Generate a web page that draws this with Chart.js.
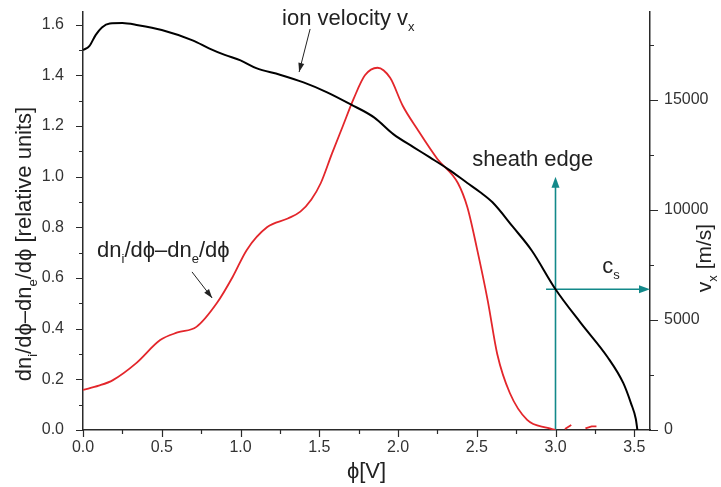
<!doctype html>
<html lang="en">
<head>
<meta charset="utf-8">
<title>ion velocity and dn/dphi near the sheath edge</title>
<style>
  * { margin: 0; padding: 0; }
  body { background: #fff; }
  .chartBox { width: 721px; height: 487px; }
</style>
</head>
<body>
<div class="chartBox"><canvas id="myChart"></canvas></div>
<script src="https://cdn.jsdelivr.net/npm/chart.js/dist/chart.umd.min.js"></script>
<script>
// ion velocity v_x, right axis [m/s]
const velPhi    = [0, 0.04, 0.08, 0.12, 0.17, 0.25, 0.35, 0.5, 0.7, 0.8, 0.9, 1.0, 1.1, 1.25, 1.4, 1.55, 1.7, 1.85, 1.97, 2.1, 2.2, 2.32, 2.44, 2.52, 2.6, 2.73, 2.85, 3.0, 3.16, 3.33, 3.43, 3.48, 3.51, 3.52];
const velValues = [17270, 17450, 17950, 18300, 18480, 18500, 18400, 18180, 17700, 17350, 17050, 16800, 16450, 16150, 15800, 15350, 14800, 14200, 13450, 12850, 12400, 11850, 11230, 10820, 10350, 9230, 8150, 6400, 4870, 3320, 2140, 1200, 500, 0];

// dn_i/dphi - dn_e/dphi, left axis [relative units]
const densPhi    = [0, 0.1, 0.19, 0.34, 0.49, 0.6, 0.72, 0.85, 0.95, 1.04, 1.17, 1.3, 1.38, 1.45, 1.51, 1.58, 1.65, 1.72, 1.79, 1.87, 1.95, 2.03, 2.12, 2.25, 2.38, 2.44, 2.5, 2.57, 2.63, 2.71, 2.82, 2.95, 3.0];
const densValues = [0.158, 0.175, 0.197, 0.265, 0.355, 0.385, 0.407, 0.501, 0.604, 0.711, 0.801, 0.835, 0.862, 0.91, 0.975, 1.09, 1.20, 1.31, 1.40, 1.43, 1.39, 1.28, 1.19, 1.07, 0.975, 0.88, 0.72, 0.51, 0.30, 0.146, 0.04, 0.008, 0.0];
const tailPhi    = [3.06, 3.1, 3.15, 3.19, 3.23, 3.26];
const tailValues = [0.004, 0.02, null, 0.006, 0.014, 0.014];

// sheath edge and sound speed c_s
const sheathPhi = 3.0;
const sheathTop = 1.0;
const csVelocity = 6400;
const csPhi = [2.94, 3.6];

const xTicks = [0, 0.5, 1.0, 1.5, 2.0, 2.5, 3.0, 3.5];
const leftTicks = [0, 0.2, 0.4, 0.6, 0.8, 1.0, 1.2, 1.4, 1.6];
const rightTicks = [0, 5000, 10000, 15000];

const FONT = '"Liberation Sans", Arial, sans-serif';
const PHI = 'ϕ';
const TEAL = '#13898a';
const AXIS = '#2a2a2a';

const pts = (xs, ys) => xs.map((v, i) => ({ x: v, y: ys[i] }));

// text with subscripts: parts = [[text, isSub], ...]
function richWidth(ctx, parts, size) {
  let w = 0;
  parts.forEach(([t, sub]) => {
    ctx.font = (sub ? Math.round(size * 0.6) : size) + 'px ' + FONT;
    w += ctx.measureText(t).width;
  });
  return w;
}
function drawRich(ctx, parts, x, y, size) {
  let cx = x;
  parts.forEach(([t, sub]) => {
    ctx.font = (sub ? Math.round(size * 0.6) : size) + 'px ' + FONT;
    ctx.fillText(t, cx, sub ? y + size * 0.28 : y);
    cx += ctx.measureText(t).width;
  });
}
function arrowHead(ctx, x1, y1, x2, y2, len, half) {
  const a = Math.atan2(y2 - y1, x2 - x1);
  ctx.beginPath();
  ctx.moveTo(x2, y2);
  ctx.lineTo(x2 - len * Math.cos(a) + half * Math.sin(a), y2 - len * Math.sin(a) - half * Math.cos(a));
  ctx.lineTo(x2 - len * Math.cos(a) - half * Math.sin(a), y2 - len * Math.sin(a) + half * Math.cos(a));
  ctx.closePath();
  ctx.fill();
}
function arrow(ctx, x1, y1, x2, y2) {
  ctx.beginPath();
  ctx.moveTo(x1, y1);
  ctx.lineTo(x2, y2);
  ctx.stroke();
  arrowHead(ctx, x1, y1, x2, y2, 9, 3);
}

const extras = {
  id: 'extras',
  afterDraw(chart) {
    const { ctx, chartArea: ca, scales: { x, y, y2 } } = chart;
    ctx.save();

    // major and minor tick marks, outward
    ctx.strokeStyle = AXIS;
    ctx.lineWidth = 1.2;
    ctx.beginPath();
    for (let v = 0; v <= 3.6001; v += 0.25) {
      const px = Math.round(x.getPixelForValue(v)) + 0.5;
      const major = Math.abs(v / 0.5 - Math.round(v / 0.5)) < 1e-6;
      ctx.moveTo(px, ca.bottom);
      ctx.lineTo(px, ca.bottom + (major ? 7 : 4));
    }
    for (let v = 0; v <= 1.6001; v += 0.1) {
      const py = Math.round(y.getPixelForValue(v)) + 0.5;
      const major = Math.abs(v / 0.2 - Math.round(v / 0.2)) < 1e-6;
      ctx.moveTo(ca.left, py);
      ctx.lineTo(ca.left - (major ? 7 : 4), py);
    }
    for (let v = 0; v <= 17500; v += 2500) {
      const py = Math.round(y2.getPixelForValue(v)) + 0.5;
      const major = v % 5000 === 0;
      ctx.moveTo(ca.right, py);
      ctx.lineTo(ca.right + (major ? 8 : 4), py);
    }
    ctx.stroke();

    ctx.fillStyle = '#222';
    ctx.textBaseline = 'alphabetic';
    ctx.textAlign = 'left';

    // axis titles
    const leftTitle = [['dn', 0], ['i', 1], ['/d' + PHI + '–dn', 0], ['e', 1], ['/d' + PHI + ' [relative units]', 0]];
    ctx.save();
    ctx.translate(31, 244);
    ctx.rotate(-Math.PI / 2);
    drawRich(ctx, leftTitle, -richWidth(ctx, leftTitle, 22) / 2, 0, 22);
    ctx.restore();

    const rightTitle = [['v', 0], ['x', 1], [' [m/s]', 0]];
    ctx.save();
    ctx.translate(711, 258);
    ctx.rotate(-Math.PI / 2);
    drawRich(ctx, rightTitle, -richWidth(ctx, rightTitle, 21) / 2, 0, 21);
    ctx.restore();

    const bottomTitle = [[PHI + '[V]', 0]];
    drawRich(ctx, bottomTitle, (ca.left + ca.right) / 2 - richWidth(ctx, bottomTitle, 22) / 2, 478, 22);

    // annotations
    drawRich(ctx, [['ion velocity v', 0], ['x', 1]], x.getPixelForValue(1.264), y.getPixelForValue(1.60), 22);
    drawRich(ctx, [['dn', 0], ['i', 1], ['/d' + PHI + '–dn', 0], ['e', 1], ['/d' + PHI, 0]], x.getPixelForValue(0.089), y.getPixelForValue(0.683), 22);
    drawRich(ctx, [['sheath edge', 0]], x.getPixelForValue(2.471), y.getPixelForValue(1.042), 22);
    drawRich(ctx, [['c', 0], ['s', 1]], x.getPixelForValue(3.297), y.getPixelForValue(0.62), 22);

    ctx.strokeStyle = '#222';
    ctx.lineWidth = 1;
    arrow(ctx, x.getPixelForValue(1.442), y.getPixelForValue(1.583), x.getPixelForValue(1.372), y.getPixelForValue(1.413));
    arrow(ctx, x.getPixelForValue(0.692), y.getPixelForValue(0.624), x.getPixelForValue(0.82), y.getPixelForValue(0.521));

    // teal arrow heads
    ctx.fillStyle = TEAL;
    const sx = x.getPixelForValue(sheathPhi);
    arrowHead(ctx, sx, y.getPixelForValue(0), sx, y.getPixelForValue(sheathTop), 11, 4);
    const cy = y2.getPixelForValue(csVelocity);
    arrowHead(ctx, x.getPixelForValue(csPhi[0]), cy, x.getPixelForValue(csPhi[1]), cy, 11, 4);

    ctx.restore();
  }
};

const data = {
  datasets: [{
    label: 'ion velocity',
    data: pts(velPhi, velValues),
    yAxisID: 'y2',
    borderColor: '#000',
    borderWidth: 2,
    cubicInterpolationMode: 'monotone'
  }, {
    label: 'dni/dphi - dne/dphi',
    data: pts(densPhi, densValues),
    yAxisID: 'y',
    borderColor: '#e3262b',
    borderWidth: 1.8,
    cubicInterpolationMode: 'monotone'
  }, {
    label: 'tail',
    data: pts(tailPhi, tailValues),
    yAxisID: 'y',
    borderColor: '#e3262b',
    borderWidth: 1.8,
    spanGaps: false
  }, {
    label: 'sheath edge',
    data: [{ x: sheathPhi, y: 0 }, { x: sheathPhi, y: sheathTop - 0.02 }],
    yAxisID: 'y',
    borderColor: TEAL,
    borderWidth: 1.6
  }, {
    label: 'cs',
    data: [{ x: csPhi[0], y: csVelocity }, { x: csPhi[1] - 0.03, y: csVelocity }],
    yAxisID: 'y2',
    borderColor: TEAL,
    borderWidth: 1.6
  }]
};

const tickFont = { family: FONT, size: 16 };

const config = {
  type: 'line',
  data,
  options: {
    responsive: true,
    maintainAspectRatio: false,
    animation: false,
    layout: { padding: { top: 12, left: 0, right: 0, bottom: 0 } },
    elements: { point: { radius: 0 } },
    plugins: { legend: { display: false }, tooltip: { enabled: false } },
    scales: {
      x: {
        type: 'linear',
        min: 0, max: 3.6,
        afterBuildTicks: s => { s.ticks = xTicks.map(v => ({ value: v })); },
        afterFit: s => { s.height = 57; s.paddingLeft = 0; s.paddingRight = 0; },
        grid: { drawOnChartArea: false, drawTicks: false },
        border: { color: AXIS, width: 1.5 },
        ticks: { font: tickFont, color: '#333', padding: 8, maxRotation: 0, callback: v => v.toFixed(1) }
      },
      y: {
        position: 'left',
        min: 0, max: 1.65,
        afterBuildTicks: s => { s.ticks = leftTicks.map(v => ({ value: v })); },
        afterFit: s => { s.width = 83; s.paddingTop = 0; s.paddingBottom = 0; },
        grid: { drawOnChartArea: false, drawTicks: false },
        border: { color: AXIS, width: 1.5 },
        ticks: { font: tickFont, color: '#333', padding: 19, callback: v => v.toFixed(1) }
      },
      y2: {
        position: 'right',
        min: 0, max: 19000,
        afterBuildTicks: s => { s.ticks = rightTicks.map(v => ({ value: v })); },
        afterFit: s => { s.width = 71; s.paddingTop = 0; s.paddingBottom = 0; },
        grid: { drawOnChartArea: false, drawTicks: false },
        border: { color: AXIS, width: 1.5 },
        ticks: { font: tickFont, color: '#333', padding: 14, callback: v => String(v) }
      }
    }
  },
  plugins: [extras]
};

const myChart = new Chart(document.getElementById('myChart'), config);
</script>
</body>
</html>
